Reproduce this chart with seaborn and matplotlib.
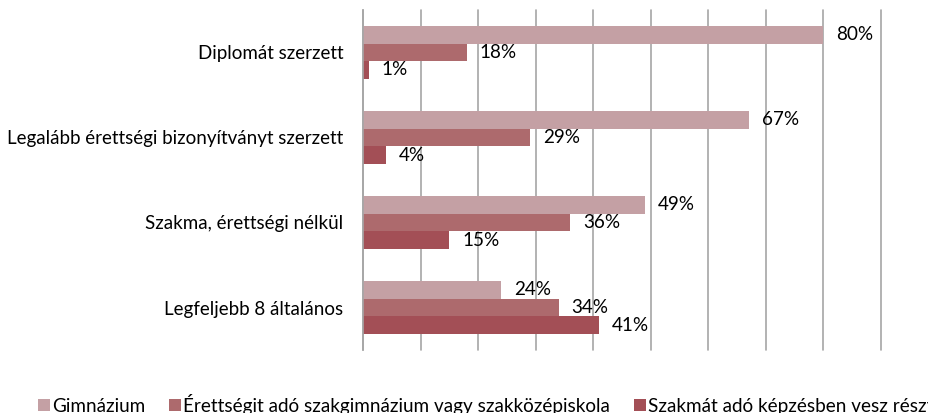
import matplotlib
matplotlib.use("Agg")
import matplotlib.pyplot as plt
import seaborn as sns
import pandas as pd

# data
categories = ["Diplomát szerzett",
              "Legalább érettségi bizonyítványt szerzett",
              "Szakma, érettségi nélkül",
              "Legfeljebb 8 általános"]
series = ["Gimnázium",
          "Érettségit adó szakgimnázium vagy szakközépiskola",
          "Szakmát adó képzésben vesz résztvett"]
gimn = [80, 67, 49, 24]
szakgimn = [18, 29, 36, 34]
szakma = [1, 4, 15, 41]
colors = ["#C4A0A4", "#AD6A6D", "#A34F56"]

rows = []
for vals, s in zip([gimn, szakgimn, szakma], series):
    for c, v in zip(categories, vals):
        rows.append({"cat": c, "series": s, "val": v})
df = pd.DataFrame(rows)

sns.set_style("white")
plt.rcParams["font.family"] = ["Lato", "DejaVu Sans"]
plt.rcParams["text.color"] = "black"
plt.rcParams["ytick.color"] = "black"

fig = plt.figure(figsize=(9.29, 4.13), dpi=100)
ax = fig.add_axes([0.3907, 0.1525, 0.5575, 0.8235])
sns.barplot(data=df, y="cat", x="val", hue="series", palette=colors,
            order=categories, hue_order=series, orient="h",
            width=0.62, saturation=1, linewidth=0, edgecolor="none",
            ax=ax, legend=True)

# value labels
for cont in ax.containers:
    labels = [f"{int(v)}%" for v in cont.datavalues]
    ax.bar_label(cont, labels=labels, padding=9.4, fontsize=13.6)

ax.set_xlim(0, 90)
ax.set_xticks(range(0, 91, 10))
ax.set_xticklabels([])
ax.tick_params(axis="x", length=0)
ax.tick_params(axis="y", length=0, labelsize=13.5, pad=14)
ax.set_xlabel("")
ax.set_ylabel("")
ax.grid(axis="x", color="#A6A6A6", linewidth=1.2)
for gl in ax.get_xgridlines():
    gl.set_clip_on(False)
ax.set_axisbelow(True)
for side in ["top", "right", "bottom"]:
    ax.spines[side].set_visible(False)
ax.spines["left"].set_color("#A6A6A6")
ax.spines["left"].set_linewidth(1.2)

ax.legend(loc="center left", bbox_to_anchor=(-0.627, -0.159), ncol=3,
          frameon=False, fontsize=13.6, handlelength=0.63, handleheight=0.63,
          handletextpad=0.12, columnspacing=1.25, borderaxespad=0,
          borderpad=0)

fig.savefig("out.png", dpi=100)
